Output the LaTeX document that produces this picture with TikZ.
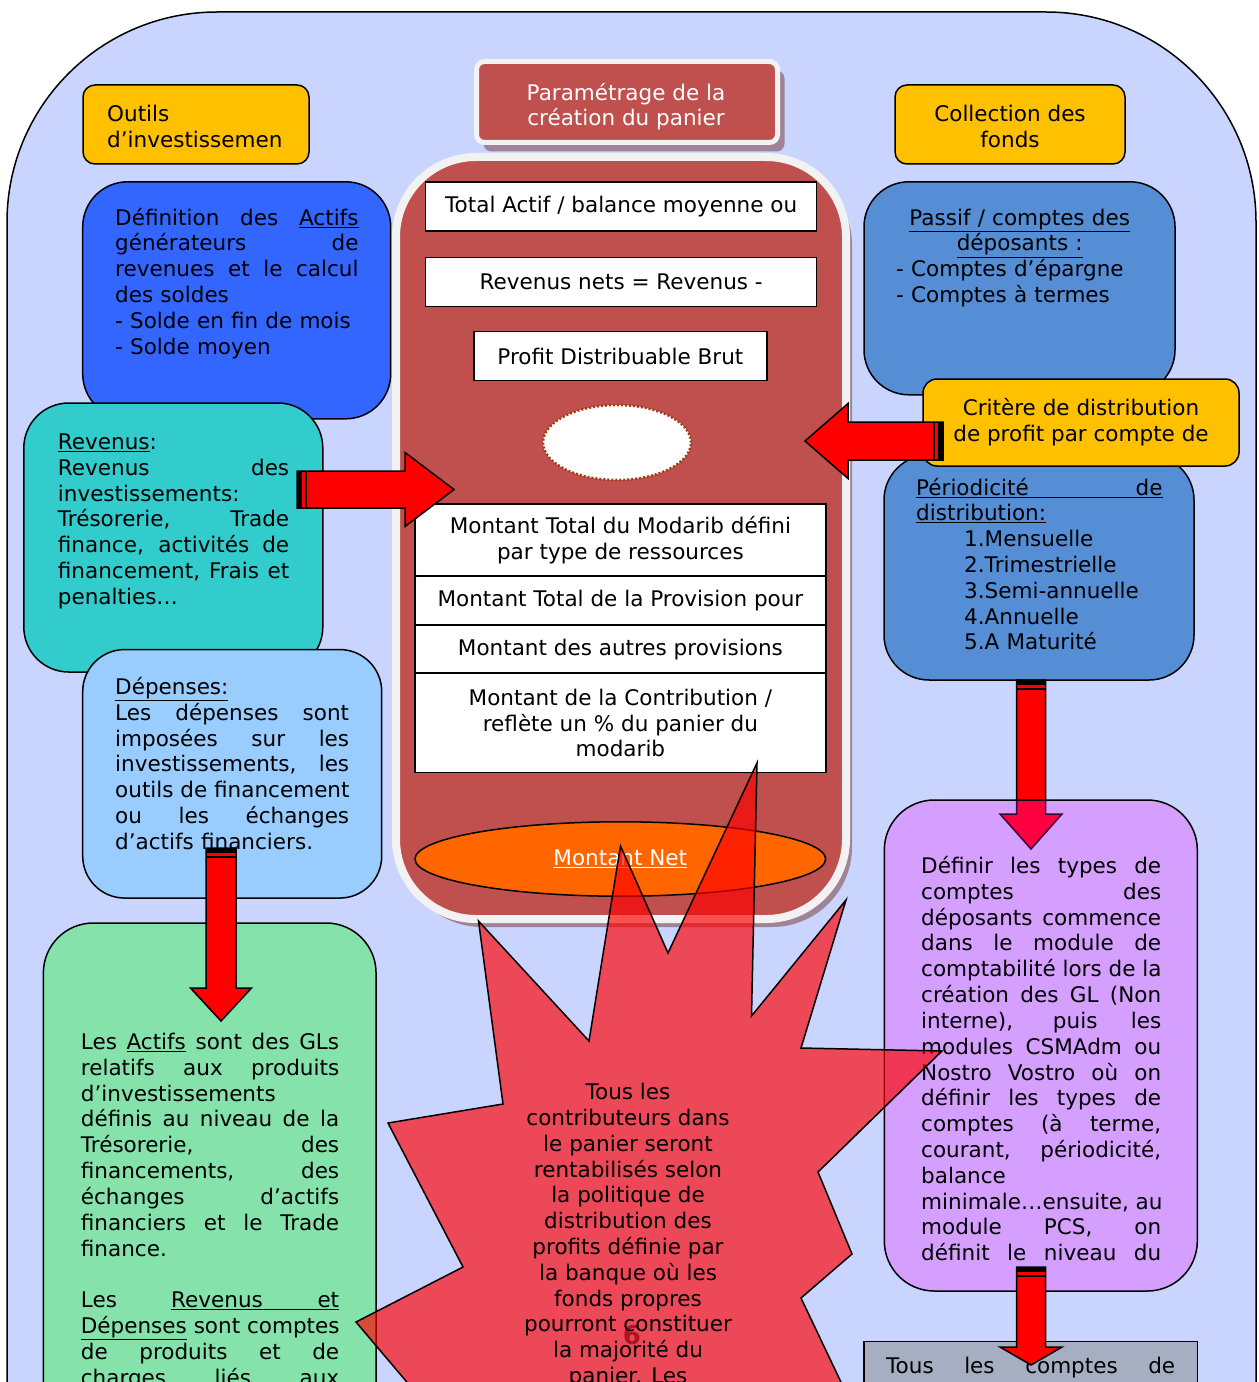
\documentclass[tikz,border=0pt]{standalone}
\usepackage{fontspec}
\setmainfont{DejaVu Sans}
\usetikzlibrary{calc,shapes.geometric,shadows}
\definecolor{fond}{RGB}{201,213,255}
\definecolor{jaune}{RGB}{255,192,0}
\definecolor{brique}{RGB}{192,80,77}
\definecolor{bord}{RGB}{242,242,242}
\definecolor{ombre}{RGB}{158,132,150}
\definecolor{bleu}{RGB}{51,102,255}
\definecolor{turq}{RGB}{51,204,204}
\definecolor{ciel}{RGB}{153,204,255}
\definecolor{vert}{RGB}{132,226,170}
\definecolor{acier}{RGB}{85,142,213}
\definecolor{mauve}{RGB}{245,0,255}
\definecolor{gris}{RGB}{166,174,194}
\definecolor{orangef}{RGB}{255,102,0}
\definecolor{pointille}{RGB}{160,60,20}
\definecolor{chiffre}{RGB}{175,20,35}
\newcommand{\fs}{\fontsize{21.6}{25.9}\selectfont}
\newcommand{\jl}[1]{\makebox[\linewidth][s]{\spaceskip=.318em plus 1fil\relax #1}}
\newcommand{\blockarrow}[5]% tail, tip, shaft, head, head length
{\coordinate (ba-h) at ($(#2)!#5!(#1)$);
 \filldraw[fill=red,draw=black,line width=1.5bp]
  ($(#1)!#3!90:(#2)$) -- ($(ba-h)!#3!90:(#2)$) -- ($(ba-h)!#4!90:(#2)$) -- (#2)
  -- ($(ba-h)!#4!-90:(#2)$) -- ($(ba-h)!#3!-90:(#2)$) -- ($(#1)!#3!-90:(#2)$) -- cycle;
 \coordinate (ba-s) at ($(#1)!2.5bp!(#2)$);
 \draw[line width=5bp] ($(ba-s)!#3!90:(#2)$) -- ($(ba-s)!#3!-90:(#2)$);
 \coordinate (ba-s) at ($(#1)!9bp!(#2)$);
 \draw[line width=1.5bp] ($(ba-s)!#3!90:(#2)$) -- ($(ba-s)!#3!-90:(#2)$);
}

\begin{document}
\begin{tikzpicture}[x=1bp,y=-1bp,font=\fs,
  boite/.style={draw=black,line width=1.5bp,inner sep=0pt},
  blanc/.style={boite,fill=white,align=center},
  texte/.style={inner sep=0pt,anchor=north west,align=left}]
	\useasboundingbox (0,0) rectangle (1258,1382);
	\clip (0,0) rectangle (1258,1382);
	\fill[white] (0,0) rectangle (1258,1382);
	\filldraw[fill=fond,line width=1.5bp,rounded corners=210bp] (7,1450) -- (7,12) -- (1256,12) -- (1256,1450);
	% haut
	\node[boite,fill=jaune,rounded corners=12bp,minimum width=226bp,minimum height=79bp] (outils) at (196,124.5) {};
	\node[texte,text width=178bp] (outils-t) at (107,103.6) {\strut Outils\\d’investissemen};
	\node[boite,fill=jaune,rounded corners=12bp,minimum width=230bp,minimum height=79bp] (collecte) at (1010,124.5) {};
	\node[inner sep=0pt,anchor=north,align=center] (collecte-t) at (1010,103.6) {\strut Collection des\\fonds};
	\node[boite,fill=brique,draw=bord,line width=5bp,rounded corners=8bp,minimum width=301bp,minimum height=81bp,
	  drop shadow={shadow xshift=7bp,shadow yshift=-9bp,fill=ombre,opacity=1}] (param) at (627,102) {};
	\node[align=center,text=white,inner sep=0pt,anchor=north] (param-t) at (626,81.9) {\strut Paramétrage de la\\création du panier};
	% panier
	\node[boite,fill=brique,draw=bord,line width=8bp,rounded corners=80bp,minimum width=450bp,minimum height=762bp,
	  drop shadow={shadow xshift=6bp,shadow yshift=-8bp,fill=ombre,opacity=1}] (panier) at (621,538) {};
	\node[blanc,minimum width=391bp,minimum height=49bp] (actif) at (621.2,206.5) {Total Actif / balance moyenne ou};
	\node[blanc,minimum width=391bp,minimum height=49bp] (nets) at (621.2,282.2) {Revenus nets = Revenus -};
	\node[blanc,minimum width=293bp,minimum height=49bp] (brut) at (620.4,356.2) {Profit Distribuable Brut};
	\node[ellipse,fill=white,draw=pointille,line width=2.5bp,dash pattern=on 2bp off 2bp,inner sep=0pt,minimum width=148bp,minimum height=75bp] (vide) at (617,442.5) {};
	\node[blanc,minimum width=411bp,minimum height=72bp] (modarib) at (620.4,540) {Montant Total du Modarib défini\\par type de ressources};
	\node[blanc,minimum width=411bp,minimum height=49bp] (provision) at (620.4,600.4) {Montant Total de la Provision pour};
	\node[blanc,minimum width=411bp,minimum height=48bp] (autres) at (620.4,649.2) {Montant des autres provisions};
	\node[blanc,minimum width=411bp,minimum height=99.4bp] (contrib) at (620.4,723) {Montant de la Contribution /\\reflète un \% du panier du\\modarib};
	\node[boite,ellipse,fill=orangef,minimum width=410.6bp,minimum height=74.4bp,text=white] (net) at (620.3,859) {\underline{Montant Net}};
	% gauche
	\node[boite,fill=bleu,rounded corners=45bp,minimum width=308bp,minimum height=237bp] (actifs) at (236.7,300.3) {};
	\node[texte,text width=243.3bp] (actifs-t) at (115,206.9) {\strut\jl{Définition des \underline{Actifs}}\\
	  \jl{générateurs de}\\ \jl{revenues et le calcul}\\ des soldes\\ - Solde en fin de mois\\ - Solde moyen};
	\node[boite,fill=turq,rounded corners=45bp,minimum width=299bp,minimum height=269bp] (revenus) at (173.3,537.5) {};
	\node[texte,text width=231.3bp] (revenus-t) at (57.7,431.2) {\strut\underline{Revenus}:\\ \jl{Revenus des}\\
	  investissements:\\ \jl{Trésorerie, Trade}\\ \jl{finance, activités de}\\ \jl{financement, Frais et}\\ penalties…};
	\node[boite,fill=ciel,rounded corners=42bp,minimum width=299bp,minimum height=248.5bp] (depenses) at (232.2,773.8) {};
	\node[texte,text width=234bp] (depenses-t) at (115,676.3) {\strut\underline{Dépenses:}\\ \jl{Les dépenses sont}\\
	  \jl{imposées sur les}\\ \jl{investissements, les}\\ \jl{outils de financement}\\ \jl{ou les échanges}\\ d’actifs financiers.};
	\node[boite,fill=vert,rounded corners=50bp,minimum width=332.7bp,minimum height=600bp] (gls) at (209.7,1223) {};
	\node[texte,text width=258.3bp] (gls-t) at (80.7,1031.3) {\strut\jl{Les \underline{Actifs} sont des GLs}\\
	  \jl{relatifs aux produits}\\ d’investissements\\ \jl{définis au niveau de la}\\ \jl{Trésorerie, des}\\
	  \jl{financements, des}\\ \jl{échanges d’actifs}\\ \jl{financiers et le Trade}\\ finance.\\[25.9pt]
	  \jl{Les \underline{\makebox[168bp][s]{Revenus et}}}\\ \jl{\underline{Dépenses} sont comptes}\\
	  \jl{de produits et de}\\ \jl{charges liés aux}};
	% droite
	\node[boite,fill=acier,rounded corners=45bp,minimum width=311bp,minimum height=213bp] (passif) at (1019.5,288.3) {};
	\node[texte,text width=247bp] (passif-t) at (896,206.9) {\strut\makebox[\linewidth]{\underline{Passif / comptes des}}\\
	  \makebox[\linewidth]{\underline{déposants :}}\\ - Comptes d’épargne\\ - Comptes à termes};
	\node[boite,fill=acier,rounded corners=45bp,minimum width=310bp,minimum height=225bp] (periode) at (1039,567.5) {};
	\node[texte,text width=246.3bp] (periode-t) at (916,476.9) {\strut\underline{\jl{Périodicité de}}\\ \underline{distribution:}\\
	  \hspace*{48bp}1.Mensuelle\\ \hspace*{48bp}2.Trimestrielle\\ \hspace*{48bp}3.Semi-annuelle\\
	  \hspace*{48bp}4.Annuelle\\ \hspace*{48bp}5.A Maturité};
	\node[boite,fill=jaune,rounded corners=14bp,minimum width=316bp,minimum height=87bp,align=center] (critere) at (1081,422.5) {Critère de distribution\\de profit par compte de};
	\coordinate (pertail) at (1031,680);
	\coordinate (pertip) at (1031,849);
	\blockarrow{pertail}{pertip}{14.5bp}{31bp}{35bp}
	\node[boite,fill=mauve,fill opacity=0.25,rounded corners=50bp,minimum width=313bp,minimum height=491bp] (types) at (1040.8,1045.5) {};
	\node[texte,text width=240bp] (types-t) at (921,855.3) {\strut\jl{Définir les types de}\\ \jl{comptes des}\\
	  \jl{déposants commence}\\ \jl{dans le module de}\\ \jl{comptabilité lors de la}\\ \jl{création des GL (Non}\\
	  \jl{interne), puis les}\\ \jl{modules CSMAdm ou}\\ \jl{Nostro Vostro où on}\\ \jl{définir les types de}\\
	  \jl{comptes (à terme,}\\ \jl{courant, périodicité,}\\ balance\\ \jl{minimale…ensuite, au}\\
	  \jl{module PCS, on}\\ \jl{définit le niveau du}};
	\node[boite,fill=gris,minimum width=333.3bp,minimum height=200bp] (tous) at (1030.6,1441.7) {};
	\node[texte,text width=289bp] (tous-t) at (886,1354.9) {\strut\jl{Tous les comptes de}};
	% fleches
	\coordinate (revtail) at (297,489.5);
	\coordinate (revtip) at (454,489.5);
	\blockarrow{revtail}{revtip}{18.5bp}{37bp}{49bp}
	\coordinate (crittail) at (943,441);
	\coordinate (crittip) at (805,441);
	\blockarrow{crittail}{crittip}{19bp}{37.5bp}{43bp}
	\coordinate (deptail) at (221,848);
	\coordinate (deptip) at (221,1021);
	\blockarrow{deptail}{deptip}{15bp}{30.5bp}{33bp}
	\coordinate (typtail) at (1031,1267);
	\coordinate (typtip) at (1031,1365);
	\blockarrow{typtail}{typtip}{14.5bp}{31bp}{18bp}
	% etoile
	\filldraw[fill=red,fill opacity=0.66,draw=black,line width=1.5bp] (478.5,921) -- (589,1041) -- (620.5,846) -- (668,953)
	  -- (757,763) -- (751.5,1016) -- (846,900) -- (801,1048) -- (942,1051) -- (818,1172) -- (852,1254) -- (801,1298)
	  -- (859,1420) -- (439,1420) -- (356,1322) -- (463,1267) -- (388,1123) -- (503,1104) -- cycle;
	\node[text=chiffre,font=\fontsize{26}{30}\selectfont\bfseries] (six) at (632,1335) {6};
	\node[inner sep=0pt,anchor=north,align=center] (etoile-t) at (628,1081.4) {\strut Tous les\\ contributeurs dans\\
	  le panier seront\\ rentabilisés selon\\ la politique de\\ distribution des\\ profits définie par\\
	  la banque où les\\ fonds propres\\ pourront constituer\\ la majorité du\\ panier. Les};
\end{tikzpicture}
\end{document}
